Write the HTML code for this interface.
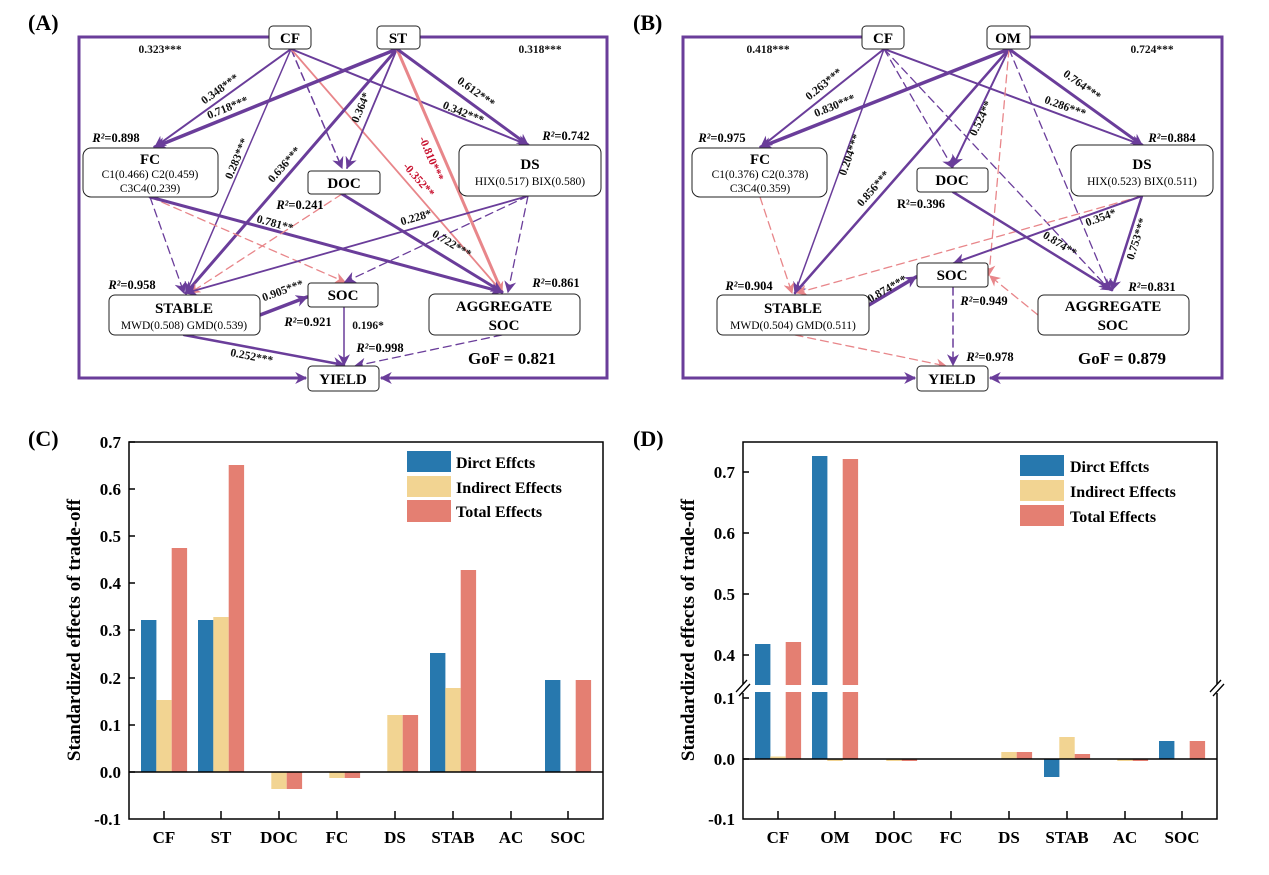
<!DOCTYPE html>
<html><head><meta charset="utf-8"><style>
html,body{margin:0;padding:0;background:#fff}
svg{display:block}
text{font-family:"Liberation Serif",serif}
.b{font-weight:bold}
.el{font-size:11.5px;font-weight:bold;fill:#111}
.tt{font-size:15px;font-weight:bold}
.st{font-size:11.5px}
.rr{font-size:12.5px;font-weight:bold}
.ax{font-size:17px;font-weight:bold}
.lg{font-size:16px;font-weight:bold}
</style></head><body>
<svg width="1269" height="875" viewBox="0 0 1269 875" xmlns="http://www.w3.org/2000/svg">
<defs>
<marker id="mp" viewBox="0 0 10 10" refX="9" refY="5" markerWidth="12" markerHeight="12" markerUnits="userSpaceOnUse" orient="auto"><path d="M0,0 L10,5 L0,10 L3,5z" fill="#6a3d9a"/></marker>
<marker id="mk" viewBox="0 0 10 10" refX="9" refY="5" markerWidth="11" markerHeight="11" markerUnits="userSpaceOnUse" orient="auto"><path d="M0,0 L10,5 L0,10 L3,5z" fill="#e8868a"/></marker>
</defs>

<!-- ============ PANEL A ============ -->
<text x="28" y="30" font-size="22" class="b">(A)</text>
<g fill="none" stroke="#6a3d9a" stroke-width="3">
<polyline points="269,37 79,37 79,378 306,378" marker-end="url(#mp)"/>
<polyline points="420,37 607,37 607,378 381,378" marker-end="url(#mp)"/>
</g>
<g fill="none" stroke-linecap="round">
<line x1="291" y1="49" x2="155" y2="147" stroke="#6a3d9a" stroke-width="2" marker-end="url(#mp)"/>
<line x1="291" y1="49" x2="186" y2="293" stroke="#6a3d9a" stroke-width="1.5" marker-end="url(#mp)"/>
<line x1="291" y1="49" x2="342" y2="168" stroke="#6a3d9a" stroke-width="1.5" stroke-dasharray="8,5" marker-end="url(#mp)"/>
<line x1="291" y1="49" x2="502" y2="292" stroke="#e8868a" stroke-width="1.8" marker-end="url(#mk)"/>
<line x1="291" y1="49" x2="528" y2="145" stroke="#6a3d9a" stroke-width="2" marker-end="url(#mp)"/>
<line x1="397" y1="49" x2="155" y2="147" stroke="#6a3d9a" stroke-width="3.5" marker-end="url(#mp)"/>
<line x1="397" y1="49" x2="186" y2="293" stroke="#6a3d9a" stroke-width="3" marker-end="url(#mp)"/>
<line x1="397" y1="49" x2="347" y2="168" stroke="#6a3d9a" stroke-width="1.8" marker-end="url(#mp)"/>
<line x1="397" y1="49" x2="502" y2="292" stroke="#e8868a" stroke-width="3" marker-end="url(#mk)"/>
<line x1="397" y1="49" x2="528" y2="145" stroke="#6a3d9a" stroke-width="3" marker-end="url(#mp)"/>
<line x1="150" y1="197" x2="184" y2="293" stroke="#6a3d9a" stroke-width="1.3" stroke-dasharray="8,5" marker-end="url(#mp)"/>
<line x1="150" y1="197" x2="345" y2="282" stroke="#e8868a" stroke-width="1.3" stroke-dasharray="8,5" marker-end="url(#mk)"/>
<line x1="150" y1="197" x2="502" y2="292" stroke="#6a3d9a" stroke-width="3" marker-end="url(#mp)"/>
<line x1="342" y1="194" x2="190" y2="293" stroke="#e8868a" stroke-width="1.3" stroke-dasharray="8,5" marker-end="url(#mk)"/>
<line x1="342" y1="194" x2="502" y2="292" stroke="#6a3d9a" stroke-width="3" marker-end="url(#mp)"/>
<line x1="528" y1="196" x2="186" y2="293" stroke="#6a3d9a" stroke-width="1.8" marker-end="url(#mp)"/>
<line x1="528" y1="196" x2="345" y2="282" stroke="#6a3d9a" stroke-width="1.3" stroke-dasharray="8,5" marker-end="url(#mp)"/>
<line x1="528" y1="196" x2="508" y2="292" stroke="#6a3d9a" stroke-width="1.3" stroke-dasharray="8,5" marker-end="url(#mp)"/>
<line x1="260" y1="315" x2="307" y2="297" stroke="#6a3d9a" stroke-width="3.5" marker-end="url(#mp)"/>
<line x1="184" y1="335" x2="344" y2="365" stroke="#6a3d9a" stroke-width="2.5" marker-end="url(#mp)"/>
<line x1="344" y1="307" x2="344" y2="365" stroke="#6a3d9a" stroke-width="1.5" marker-end="url(#mp)"/>
<line x1="502" y1="335" x2="355" y2="366" stroke="#6a3d9a" stroke-width="1.3" stroke-dasharray="8,5" marker-end="url(#mp)"/>
</g>
<g fill="#fff" stroke="#222" stroke-width="1">
<rect x="269" y="26" width="42" height="23" rx="4"/>
<rect x="377" y="26" width="43" height="23" rx="4"/>
<rect x="83" y="148" width="135" height="49" rx="8"/>
<rect x="459" y="145" width="142" height="51" rx="8"/>
<rect x="308" y="171" width="72" height="23" rx="3"/>
<rect x="109" y="295" width="151" height="40" rx="6"/>
<rect x="308" y="283" width="70" height="24" rx="3"/>
<rect x="429" y="294" width="151" height="41" rx="6"/>
<rect x="308" y="366" width="71" height="25" rx="4"/>
</g>
<g text-anchor="middle">
<text x="290" y="43" class="tt">CF</text>
<text x="398" y="43" class="tt">ST</text>
<text x="150" y="164" class="tt">FC</text>
<text x="150" y="178" class="st">C1(0.466) C2(0.459)</text>
<text x="150" y="192" class="st">C3C4(0.239)</text>
<text x="530" y="169" class="tt">DS</text>
<text x="530" y="185" class="st">HIX(0.517) BIX(0.580)</text>
<text x="344" y="188" class="tt">DOC</text>
<text x="184" y="313" class="tt">STABLE</text>
<text x="184" y="329" class="st">MWD(0.508) GMD(0.539)</text>
<text x="343" y="300" class="tt">SOC</text>
<text x="504" y="311" class="tt">AGGREGATE</text>
<text x="504" y="330" class="tt">SOC</text>
<text x="343" y="384" class="tt">YIELD</text>
<text x="160" y="53" class="el">0.323***</text>
<text x="540" y="53" class="el">0.318***</text>
<text x="116" y="142" class="rr"><tspan font-style="italic">R²</tspan>=0.898</text>
<text x="566" y="140" class="rr"><tspan font-style="italic">R²</tspan>=0.742</text>
<text x="300" y="209" class="rr"><tspan font-style="italic">R²</tspan>=0.241</text>
<text x="132" y="289" class="rr"><tspan font-style="italic">R²</tspan>=0.958</text>
<text x="556" y="287" class="rr"><tspan font-style="italic">R²</tspan>=0.861</text>
<text x="308" y="326" class="rr"><tspan font-style="italic">R²</tspan>=0.921</text>
<text x="368" y="329" class="el">0.196*</text>
<text x="380" y="352" class="rr"><tspan font-style="italic">R²</tspan>=0.998</text>
<text x="512" y="364" font-size="17" class="b">GoF = 0.821</text>
<text class="el" transform="translate(222,92) rotate(-36)">0.348***</text>
<text class="el" transform="translate(229,111) rotate(-22)">0.718***</text>
<text class="el" transform="translate(240,160) rotate(-67)">0.283***</text>
<text class="el" transform="translate(287,167) rotate(-49)">0.636***</text>
<text class="el" transform="translate(364,109) rotate(-67)">0.364*</text>
<text class="el" transform="translate(474,95) rotate(36)">0.612***</text>
<text class="el" transform="translate(462,116) rotate(22)">0.342***</text>
<text class="el" style="fill:#c8102e" transform="translate(428,160) rotate(67)">-0.810***</text>
<text class="el" style="fill:#c8102e" transform="translate(416,182) rotate(49)">-0.352**</text>
<text class="el" transform="translate(274,227) rotate(15)">0.781**</text>
<text class="el" transform="translate(417,221) rotate(-16)">0.228*</text>
<text class="el" transform="translate(450,247) rotate(31)">0.722***</text>
<text class="el" transform="translate(284,294) rotate(-20)">0.905***</text>
<text class="el" transform="translate(251,360) rotate(11)">0.252***</text>
</g>

<!-- ============ PANEL B ============ -->
<text x="633" y="30" font-size="22" class="b">(B)</text>
<g fill="none" stroke="#6a3d9a" stroke-width="3">
<polyline points="862,37 683,37 683,378 915,378" marker-end="url(#mp)"/>
<polyline points="1030,37 1222,37 1222,378 990,378" marker-end="url(#mp)"/>
</g>
<g fill="none" stroke-linecap="round">
<line x1="884" y1="49" x2="761" y2="147" stroke="#6a3d9a" stroke-width="2" marker-end="url(#mp)"/>
<line x1="884" y1="49" x2="795" y2="293" stroke="#6a3d9a" stroke-width="1.5" marker-end="url(#mp)"/>
<line x1="884" y1="49" x2="953" y2="168" stroke="#6a3d9a" stroke-width="1.3" stroke-dasharray="8,5" marker-end="url(#mp)"/>
<line x1="884" y1="49" x2="1110" y2="290" stroke="#6a3d9a" stroke-width="1.3" stroke-dasharray="8,5" marker-end="url(#mp)"/>
<line x1="884" y1="49" x2="1142" y2="145" stroke="#6a3d9a" stroke-width="2" marker-end="url(#mp)"/>
<line x1="1009" y1="49" x2="761" y2="147" stroke="#6a3d9a" stroke-width="3.5" marker-end="url(#mp)"/>
<line x1="1009" y1="49" x2="795" y2="293" stroke="#6a3d9a" stroke-width="2.5" marker-end="url(#mp)"/>
<line x1="1009" y1="49" x2="953" y2="166" stroke="#6a3d9a" stroke-width="2" marker-end="url(#mp)"/>
<line x1="1009" y1="49" x2="989" y2="275" stroke="#e8868a" stroke-width="1.3" stroke-dasharray="8,5" marker-end="url(#mk)"/>
<line x1="1009" y1="49" x2="1110" y2="290" stroke="#6a3d9a" stroke-width="1.3" stroke-dasharray="8,5" marker-end="url(#mp)"/>
<line x1="1009" y1="49" x2="1142" y2="145" stroke="#6a3d9a" stroke-width="3" marker-end="url(#mp)"/>
<line x1="760" y1="197" x2="792" y2="293" stroke="#e8868a" stroke-width="1.3" stroke-dasharray="8,5" marker-end="url(#mk)"/>
<line x1="1142" y1="196" x2="797" y2="293" stroke="#e8868a" stroke-width="1.3" stroke-dasharray="8,5" marker-end="url(#mk)"/>
<line x1="1142" y1="196" x2="954" y2="263" stroke="#6a3d9a" stroke-width="2" marker-end="url(#mp)"/>
<line x1="1142" y1="196" x2="1112" y2="290" stroke="#6a3d9a" stroke-width="2.5" marker-end="url(#mp)"/>
<line x1="953" y1="192" x2="1112" y2="290" stroke="#6a3d9a" stroke-width="2.5" marker-end="url(#mp)"/>
<line x1="869" y1="305" x2="916" y2="277" stroke="#6a3d9a" stroke-width="3.5" marker-end="url(#mp)"/>
<line x1="795" y1="335" x2="946" y2="366" stroke="#e8868a" stroke-width="1.3" stroke-dasharray="8,5" marker-end="url(#mk)"/>
<line x1="953" y1="287" x2="953" y2="365" stroke="#6a3d9a" stroke-width="1.5" stroke-dasharray="8,5" marker-end="url(#mp)"/>
<line x1="1038" y1="315" x2="990" y2="276" stroke="#e8868a" stroke-width="1.3" stroke-dasharray="8,5" marker-end="url(#mk)"/>
</g>
<g fill="#fff" stroke="#222" stroke-width="1">
<rect x="862" y="26" width="42" height="23" rx="4"/>
<rect x="987" y="26" width="43" height="23" rx="4"/>
<rect x="692" y="148" width="135" height="49" rx="8"/>
<rect x="1071" y="145" width="142" height="51" rx="8"/>
<rect x="917" y="168" width="71" height="24" rx="3"/>
<rect x="717" y="295" width="152" height="40" rx="6"/>
<rect x="917" y="263" width="71" height="24" rx="3"/>
<rect x="1038" y="295" width="151" height="40" rx="6"/>
<rect x="917" y="366" width="71" height="25" rx="4"/>
</g>
<g text-anchor="middle">
<text x="883" y="43" class="tt">CF</text>
<text x="1008" y="43" class="tt">OM</text>
<text x="760" y="164" class="tt">FC</text>
<text x="760" y="178" class="st">C1(0.376) C2(0.378)</text>
<text x="760" y="192" class="st">C3C4(0.359)</text>
<text x="1142" y="169" class="tt">DS</text>
<text x="1142" y="185" class="st">HIX(0.523) BIX(0.511)</text>
<text x="952" y="185" class="tt">DOC</text>
<text x="793" y="313" class="tt">STABLE</text>
<text x="793" y="329" class="st">MWD(0.504) GMD(0.511)</text>
<text x="952" y="280" class="tt">SOC</text>
<text x="1113" y="311" class="tt">AGGREGATE</text>
<text x="1113" y="330" class="tt">SOC</text>
<text x="952" y="384" class="tt">YIELD</text>
<text x="768" y="53" class="el">0.418***</text>
<text x="1152" y="53" class="el">0.724***</text>
<text x="722" y="142" class="rr"><tspan font-style="italic">R²</tspan>=0.975</text>
<text x="1172" y="142" class="rr"><tspan font-style="italic">R²</tspan>=0.884</text>
<text x="921" y="208" class="rr">R²=0.396</text>
<text x="749" y="290" class="rr"><tspan font-style="italic">R²</tspan>=0.904</text>
<text x="1152" y="291" class="rr"><tspan font-style="italic">R²</tspan>=0.831</text>
<text x="984" y="305" class="rr"><tspan font-style="italic">R²</tspan>=0.949</text>
<text x="990" y="361" class="rr"><tspan font-style="italic">R²</tspan>=0.978</text>
<text x="1122" y="364" font-size="17" class="b">GoF = 0.879</text>
<text class="el" transform="translate(826,87) rotate(-39)">0.263***</text>
<text class="el" transform="translate(836,109) rotate(-22)">0.830***</text>
<text class="el" transform="translate(853,156) rotate(-70)">0.204***</text>
<text class="el" transform="translate(876,191) rotate(-49)">0.856***</text>
<text class="el" transform="translate(984,120) rotate(-64)">0.524**</text>
<text class="el" transform="translate(1080,88) rotate(36)">0.764***</text>
<text class="el" transform="translate(1064,110) rotate(20)">0.286***</text>
<text class="el" transform="translate(1102,221) rotate(-20)">0.354*</text>
<text class="el" transform="translate(1058,247) rotate(32)">0.874**</text>
<text class="el" transform="translate(1140,240) rotate(-72)">0.753***</text>
<text class="el" transform="translate(889,292) rotate(-30)">0.874***</text>
</g>

<!-- ============ PANEL C ============ -->
<text x="28" y="446" font-size="22" class="b">(C)</text>
<g>
<rect x="141" y="620" width="15.4" height="152" fill="#2778ae"/>
<rect x="156.3" y="700" width="15.4" height="72" fill="#f2d492"/>
<rect x="171.7" y="548" width="15.4" height="224" fill="#e47f72"/>
<rect x="198" y="620" width="15.4" height="152" fill="#2778ae"/>
<rect x="213.3" y="617" width="15.4" height="155" fill="#f2d492"/>
<rect x="228.7" y="465" width="15.4" height="307" fill="#e47f72"/>
<rect x="271.3" y="772" width="15.4" height="17" fill="#f2d492"/>
<rect x="286.7" y="772" width="15.4" height="17" fill="#e47f72"/>
<rect x="329.3" y="772" width="15.4" height="6" fill="#f2d492"/>
<rect x="344.7" y="772" width="15.4" height="6" fill="#e47f72"/>
<rect x="387.3" y="715" width="15.4" height="57" fill="#f2d492"/>
<rect x="402.7" y="715" width="15.4" height="57" fill="#e47f72"/>
<rect x="430" y="653" width="15.4" height="119" fill="#2778ae"/>
<rect x="445.3" y="688" width="15.4" height="84" fill="#f2d492"/>
<rect x="460.7" y="570" width="15.4" height="202" fill="#e47f72"/>
<rect x="545" y="680" width="15.4" height="92" fill="#2778ae"/>
<rect x="575.7" y="680" width="15.4" height="92" fill="#e47f72"/>
</g>
<line x1="129" y1="772" x2="603" y2="772" stroke="#000" stroke-width="1.5"/>
<rect x="129" y="442" width="474" height="377" fill="none" stroke="#000" stroke-width="1.5"/>
<g stroke="#000" stroke-width="1.5">
<line x1="129" y1="442" x2="135" y2="442"/><line x1="129" y1="489" x2="135" y2="489"/><line x1="129" y1="536" x2="135" y2="536"/><line x1="129" y1="583" x2="135" y2="583"/><line x1="129" y1="630" x2="135" y2="630"/><line x1="129" y1="678" x2="135" y2="678"/><line x1="129" y1="725" x2="135" y2="725"/><line x1="129" y1="772" x2="135" y2="772"/>
<line x1="164" y1="819" x2="164" y2="811"/><line x1="221" y1="819" x2="221" y2="811"/><line x1="279" y1="819" x2="279" y2="811"/><line x1="337" y1="819" x2="337" y2="811"/><line x1="395" y1="819" x2="395" y2="811"/><line x1="453" y1="819" x2="453" y2="811"/><line x1="511" y1="819" x2="511" y2="811"/><line x1="568" y1="819" x2="568" y2="811"/>
</g>
<g class="ax" text-anchor="end">
<text x="121" y="448">0.7</text><text x="121" y="495">0.6</text><text x="121" y="542">0.5</text><text x="121" y="589">0.4</text><text x="121" y="636">0.3</text><text x="121" y="684">0.2</text><text x="121" y="731">0.1</text><text x="121" y="778">0.0</text><text x="121" y="825">-0.1</text>
</g>
<g class="ax" text-anchor="middle">
<text x="164" y="843">CF</text><text x="221" y="843">ST</text><text x="279" y="843">DOC</text><text x="337" y="843">FC</text><text x="395" y="843">DS</text><text x="453" y="843">STAB</text><text x="511" y="843">AC</text><text x="568" y="843">SOC</text>
</g>
<text transform="translate(80,630) rotate(-90)" text-anchor="middle" font-size="19" class="b">Standardized effects of trade-off</text>
<rect x="407" y="451" width="44" height="21" fill="#2778ae"/>
<rect x="407" y="476" width="44" height="21" fill="#f2d492"/>
<rect x="407" y="500" width="44" height="22" fill="#e47f72"/>
<text x="456" y="468" class="lg">Dirct Effcts</text>
<text x="456" y="493" class="lg">Indirect Effects</text>
<text x="456" y="517" class="lg">Total Effects</text>

<!-- ============ PANEL D ============ -->
<text x="633" y="446" font-size="22" class="b">(D)</text>
<g>
<rect x="755" y="644" width="15.4" height="115" fill="#2778ae"/>
<rect x="770.3" y="756.5" width="15.4" height="2.5" fill="#f2d492"/>
<rect x="785.7" y="642" width="15.4" height="117" fill="#e47f72"/>
<rect x="812" y="456" width="15.4" height="303" fill="#2778ae"/>
<rect x="827.3" y="759" width="15.4" height="2" fill="#f2d492"/>
<rect x="842.7" y="459" width="15.4" height="300" fill="#e47f72"/>
<rect x="886.3" y="759" width="15.4" height="2" fill="#f2d492"/>
<rect x="901.7" y="759" width="15.4" height="2" fill="#e47f72"/>
<rect x="1001.3" y="752" width="15.4" height="7" fill="#f2d492"/>
<rect x="1016.7" y="752" width="15.4" height="7" fill="#e47f72"/>
<rect x="1044" y="759" width="15.4" height="18" fill="#2778ae"/>
<rect x="1059.3" y="737" width="15.4" height="22" fill="#f2d492"/>
<rect x="1074.7" y="754" width="15.4" height="5" fill="#e47f72"/>
<rect x="1117.3" y="759" width="15.4" height="2" fill="#f2d492"/>
<rect x="1132.7" y="759" width="15.4" height="2" fill="#e47f72"/>
<rect x="1159" y="741" width="15.4" height="18" fill="#2778ae"/>
<rect x="1189.7" y="741" width="15.4" height="18" fill="#e47f72"/>
</g>
<rect x="745" y="685" width="120" height="7" fill="#fff"/>
<line x1="743" y1="759" x2="1217" y2="759" stroke="#000" stroke-width="1.5"/>
<rect x="743" y="442" width="474" height="377" fill="none" stroke="#000" stroke-width="1.5"/>
<rect x="738" y="684" width="10" height="9" fill="#fff"/>
<rect x="1212" y="684" width="10" height="9" fill="#fff"/>
<g stroke="#000" stroke-width="1.3">
<line x1="736" y1="692" x2="747" y2="680"/><line x1="739" y1="696" x2="750" y2="684"/>
<line x1="1210" y1="692" x2="1221" y2="680"/><line x1="1213" y1="696" x2="1224" y2="684"/>
</g>
<g stroke="#000" stroke-width="1.5">
<line x1="743" y1="472" x2="749" y2="472"/><line x1="743" y1="533" x2="749" y2="533"/><line x1="743" y1="594" x2="749" y2="594"/><line x1="743" y1="655" x2="749" y2="655"/><line x1="743" y1="698" x2="749" y2="698"/><line x1="743" y1="759" x2="749" y2="759"/>
<line x1="778" y1="819" x2="778" y2="811"/><line x1="835" y1="819" x2="835" y2="811"/><line x1="894" y1="819" x2="894" y2="811"/><line x1="951" y1="819" x2="951" y2="811"/><line x1="1009" y1="819" x2="1009" y2="811"/><line x1="1067" y1="819" x2="1067" y2="811"/><line x1="1125" y1="819" x2="1125" y2="811"/><line x1="1182" y1="819" x2="1182" y2="811"/>
</g>
<g class="ax" text-anchor="end">
<text x="735" y="478">0.7</text><text x="735" y="539">0.6</text><text x="735" y="600">0.5</text><text x="735" y="661">0.4</text><text x="735" y="704">0.1</text><text x="735" y="765">0.0</text><text x="735" y="825">-0.1</text>
</g>
<g class="ax" text-anchor="middle">
<text x="778" y="843">CF</text><text x="835" y="843">OM</text><text x="894" y="843">DOC</text><text x="951" y="843">FC</text><text x="1009" y="843">DS</text><text x="1067" y="843">STAB</text><text x="1125" y="843">AC</text><text x="1182" y="843">SOC</text>
</g>
<text transform="translate(694,630) rotate(-90)" text-anchor="middle" font-size="19" class="b">Standardized effects of trade-off</text>
<rect x="1020" y="455" width="44" height="21" fill="#2778ae"/>
<rect x="1020" y="480" width="44" height="21" fill="#f2d492"/>
<rect x="1020" y="505" width="44" height="21" fill="#e47f72"/>
<text x="1070" y="472" class="lg">Dirct Effcts</text>
<text x="1070" y="497" class="lg">Indirect Effects</text>
<text x="1070" y="522" class="lg">Total Effects</text>
</svg>
</body></html>
